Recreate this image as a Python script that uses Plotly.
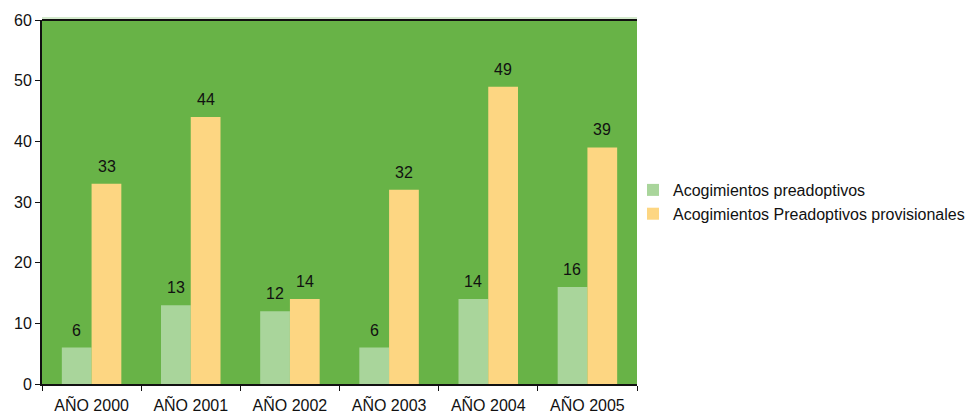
import plotly.graph_objects as go

categories = ["AÑO 2000", "AÑO 2001", "AÑO 2002", "AÑO 2003", "AÑO 2004", "AÑO 2005"]
preadoptivos = [6, 13, 12, 6, 14, 16]
provisionales = [33, 44, 14, 32, 49, 39]
series_names = ["Acogimientos preadoptivos", "Acogimientos Preadoptivos provisionales"]
y_ticks = [0, 10, 20, 30, 40, 50, 60]

font = "Liberation Sans, Arial, sans-serif"
colors = ["#a9d59b", "#fdd682"]

fig = go.Figure()
for name, vals, col in zip(series_names, [preadoptivos, provisionales], colors):
    fig.add_trace(go.Bar(x=categories, y=vals, name=name,
                         marker=dict(color=col, line=dict(width=0))))

# value labels
for vals, shift in [(preadoptivos, -15), (provisionales, 15)]:
    for c, v in zip(categories, vals):
        fig.add_annotation(x=c, y=v, text=str(v), showarrow=False,
                           xshift=shift, yshift=7, yanchor="bottom",
                           font=dict(size=16, family=font, color="#111111"))

fig.update_layout(
    width=968, height=413,
    margin=dict(l=42, r=331, t=20, b=29, autoexpand=False),
    paper_bgcolor="white",
    plot_bgcolor="#68b347",
    barmode="group", bargap=0.4, bargroupgap=0,
    font=dict(family=font, size=16, color="#111111"),
    showlegend=True,
    legend=dict(x=591 / 595, y=0.5, xanchor="left", yanchor="middle",
                bgcolor="rgba(0,0,0,0)",
                font=dict(size=16, family=font, color="#111111"),
                tracegroupgap=0, itemwidth=30),
)

fig.update_xaxes(showgrid=False, showline=True, linecolor="#111111", linewidth=2,
                 ticks="outside", tickson="boundaries", ticklen=5, tickcolor="#111111",
                 automargin=False, ticklabelstandoff=6,
                 tickfont=dict(size=16, family=font, color="#111111"))
fig.update_yaxes(range=[0, 60], tickvals=y_ticks, showgrid=False, zeroline=False,
                 showline=True, linecolor="#111111", linewidth=2, mirror=False,
                 ticks="outside", ticklen=5, tickcolor="#111111",
                 automargin=False,
                 tickfont=dict(size=16, family=font, color="#111111"))
# thin light-green rim above the top border
fig.add_shape(type="line", xref="paper", yref="paper", ysizemode="pixel", yanchor=1,
              x0=0, x1=1, y0=2, y1=2, line=dict(color="#a9d59b", width=1))
# top border line
fig.add_shape(type="line", xref="paper", yref="paper", x0=0, x1=1, y0=1, y1=1,
              line=dict(color="#111111", width=2))

fig.write_html("out.html", config={"displayModeBar": False},
               post_script="document.body.style.margin='0';document.body.style.overflow='hidden';")
